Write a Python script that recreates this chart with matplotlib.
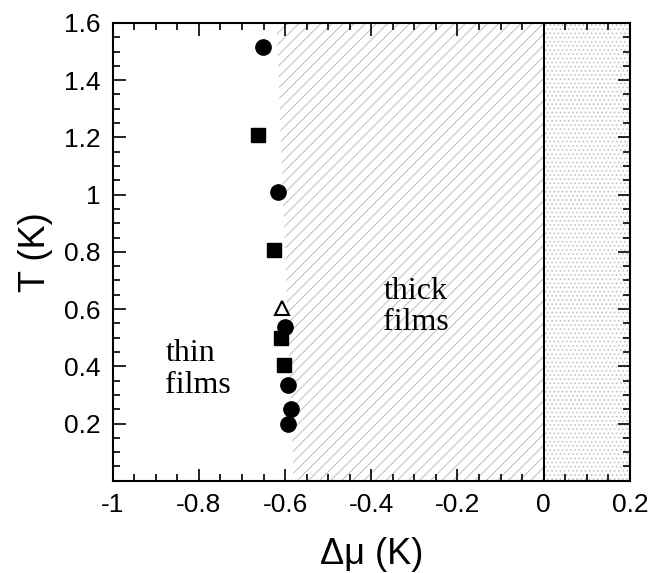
import numpy as np
import matplotlib.pyplot as plt
from matplotlib.ticker import MultipleLocator

# data
circ_mu = [-0.652, -0.617, -0.601, -0.594, -0.587, -0.594]
circ_T = [1.516, 1.01, 0.539, 0.336, 0.249, 0.20]
sq_mu = [-0.663, -0.626, -0.610, -0.603]
sq_T = [1.209, 0.807, 0.50, 0.405]
tri_mu = [-0.608]
tri_T = [0.605]

# boundary of the hatched (thick films) region
bnd_T = [0.0, 0.2, 0.6, 1.0, 1.6]
bnd_mu = [-0.58, -0.585, -0.595, -0.605, -0.62]

plt.rcParams['hatch.linewidth'] = 0.7

fig = plt.figure(figsize=(6.48, 5.73), dpi=100)
ax = fig.add_axes([0.174, 0.161, 0.798, 0.799])

ax.fill_betweenx(bnd_T, bnd_mu, 0, facecolor='none', edgecolor='#bdbdbd',
                 hatch='///', linewidth=0)
ax.fill_betweenx([0, 1.6], 0, 0.2, facecolor='none', edgecolor='#c4c4c4',
                 hatch='....', linewidth=0)
ax.axvline(0, color='black', lw=1.5)

ax.plot(circ_mu, circ_T, 'o', color='black', ms=11)
ax.plot(sq_mu, sq_T, 's', color='black', ms=9.5)
ax.plot(tri_mu, tri_T, '^', mfc='white', mec='black', mew=1.5, ms=10)

ax.text(-0.878, 0.39, 'thin\nfilms', family='Liberation Serif', fontsize=23,
        ha='left', va='center', linespacing=1.15)
ax.text(-0.372, 0.607, 'thick\nfilms', family='Liberation Serif', fontsize=23,
        ha='left', va='center', linespacing=1.1)

ax.set_xlim(-1, 0.2)
ax.set_ylim(0, 1.6)
ax.xaxis.set_major_locator(MultipleLocator(0.2))
ax.xaxis.set_minor_locator(MultipleLocator(0.05))
ax.yaxis.set_major_locator(MultipleLocator(0.2))
ax.yaxis.set_minor_locator(MultipleLocator(0.05))
ax.set_xticks([-1, -0.8, -0.6, -0.4, -0.2, 0, 0.2])
ax.set_xticklabels(['-1', '-0.8', '-0.6', '-0.4', '-0.2', '0', '0.2'])
ax.set_yticks([0.2, 0.4, 0.6, 0.8, 1.0, 1.2, 1.4, 1.6])
ax.set_yticklabels(['0.2', '0.4', '0.6', '0.8', '1', '1.2', '1.4', '1.6'])
ax.tick_params(which='both', direction='in', top=True, right=True,
               labelsize=19, width=1.2)
ax.tick_params(which='major', length=9, pad=9)
ax.tick_params(which='minor', length=5)
for s in ax.spines.values():
    s.set_linewidth(1.5)
for lab in ax.get_xticklabels() + ax.get_yticklabels():
    lab.set_family('Liberation Sans')

ax.set_xlabel('Δμ (K)', family='Liberation Sans', fontsize=26, labelpad=14)
ax.set_ylabel('T (K)', family='Liberation Sans', fontsize=26, labelpad=8)

fig.savefig('out.png', dpi=100)
